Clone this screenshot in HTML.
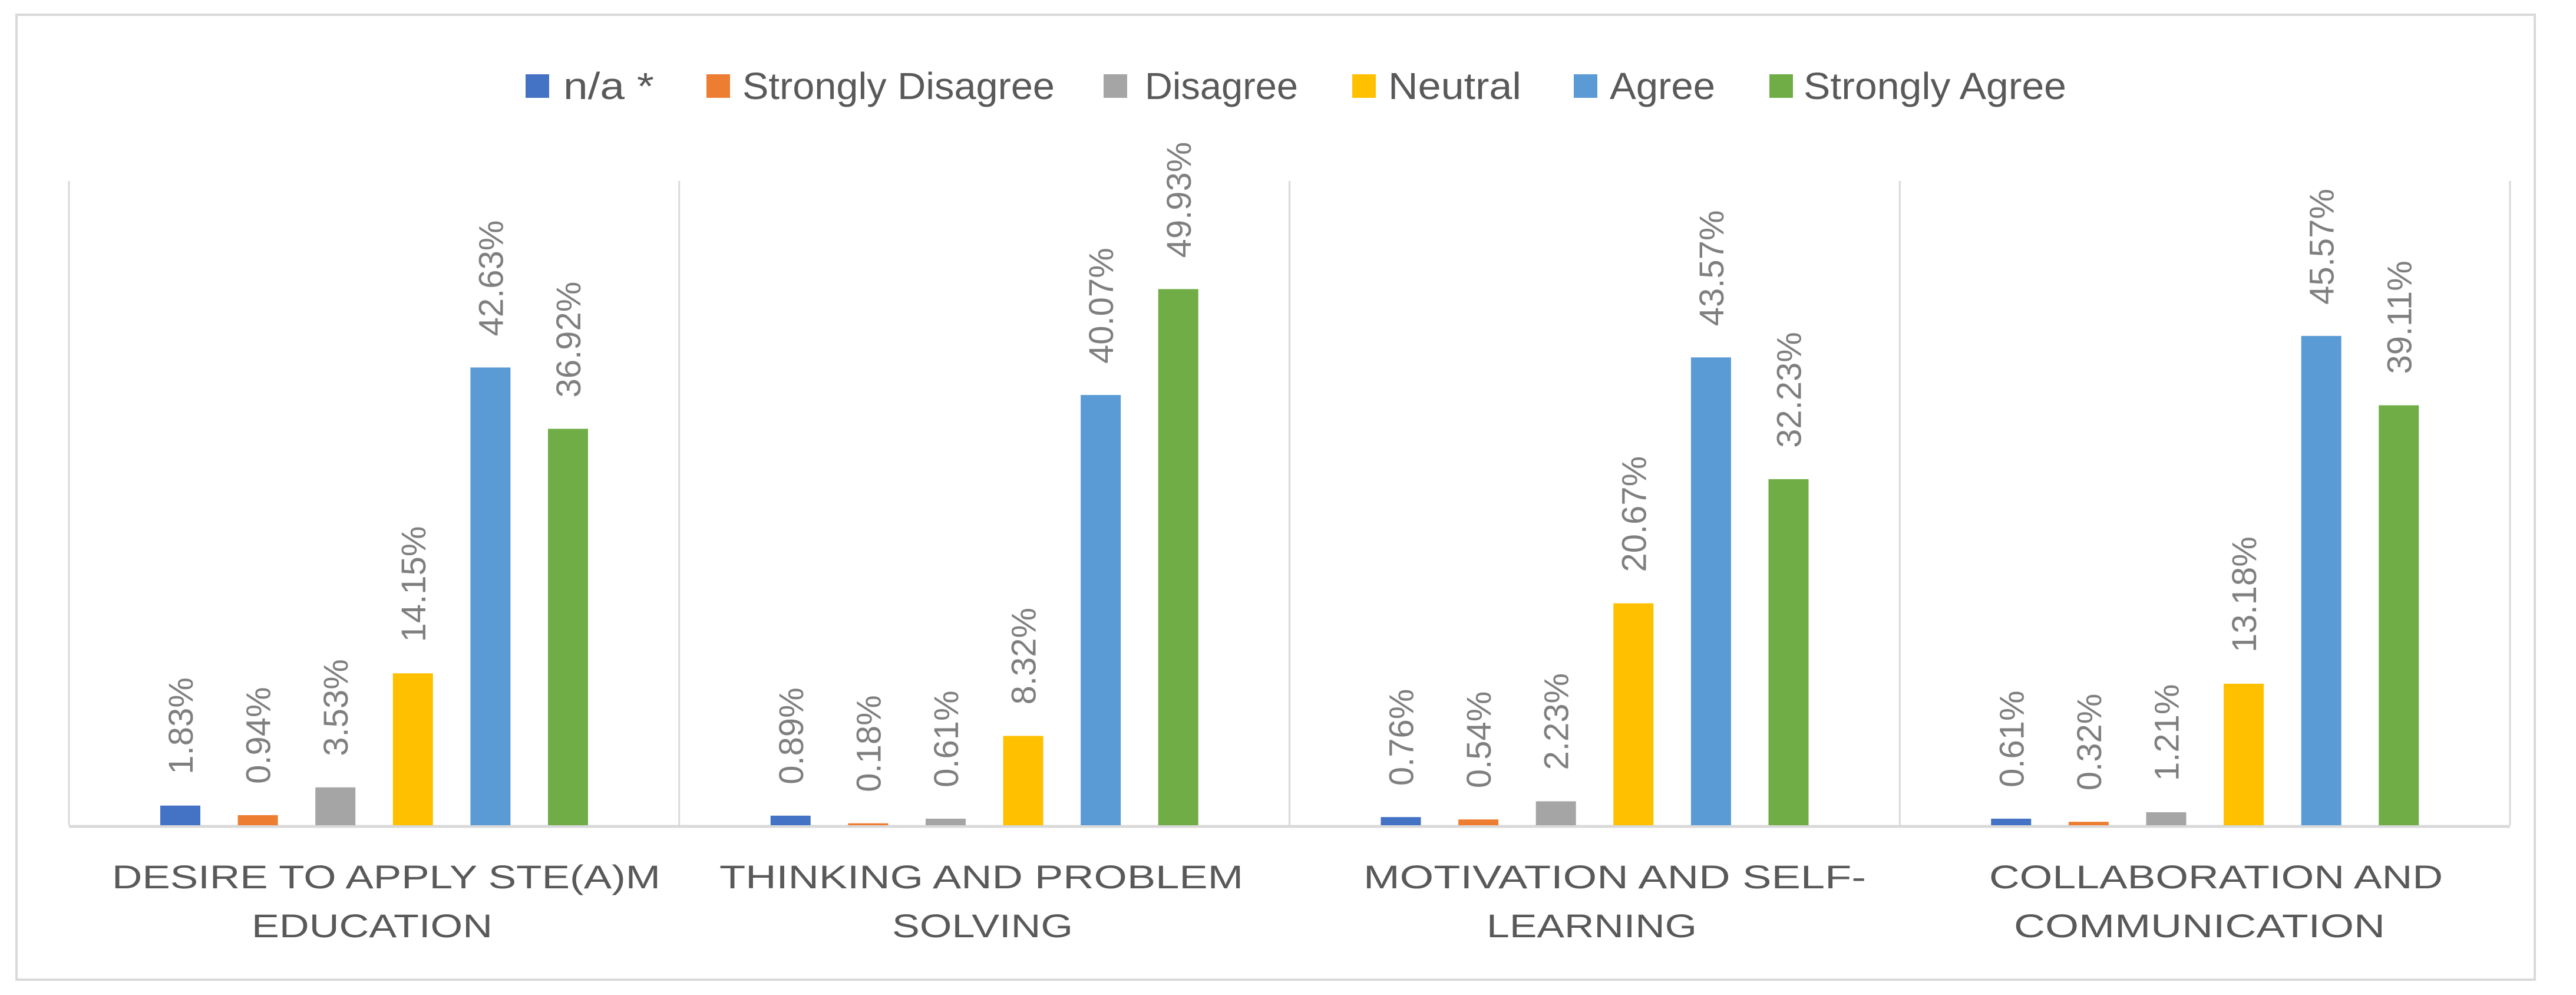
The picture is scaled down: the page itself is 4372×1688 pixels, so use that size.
<!DOCTYPE html>
<html><head><meta charset="utf-8"><style>html,body{margin:0;padding:0;background:#fff}svg{display:block}</style></head>
<body>
<svg id="chart" width="4372" height="1688" xmlns="http://www.w3.org/2000/svg" font-family="Liberation Sans, sans-serif">
<rect x="28" y="25" width="4274" height="1637" fill="#fff" stroke="#d9d9d9" stroke-width="4"/>
<g id="legend"></g>
<g id="grid"></g>
<g id="bars"></g>
<g id="labels"></g>
<g id="cats"></g>
</svg>
<script>
const categories1 = ["DESIRE TO APPLY STE(A)M","THINKING AND PROBLEM","MOTIVATION AND SELF-","COLLABORATION AND"];
const categories2 = ["EDUCATION","SOLVING","LEARNING","COMMUNICATION"];
const seriesNames = ["n/a *","Strongly Disagree","Disagree","Neutral","Agree","Strongly Agree"];
const naVals = [1.83,0.89,0.76,0.61];
const sdVals = [0.94,0.18,0.54,0.32];
const dVals = [3.53,0.61,2.23,1.21];
const neuVals = [14.15,8.32,20.67,13.18];
const agVals = [42.63,40.07,43.57,45.57];
const saVals = [36.92,49.93,32.23,39.11];
const yMax = 60;

const series = [naVals,sdVals,dVals,neuVals,agVals,saVals];
const colors = ["#4472C4","#ED7D31","#A5A5A5","#FFC000","#5B9BD5","#70AD47"];
const NS="http://www.w3.org/2000/svg";
const plotL=117, plotR=4260, plotT=307, baseY=1400;
const groupW=(plotR-plotL)/categories1.length;
const yScale=v=>baseY-(v/yMax)*(baseY-plotT);
const barW=68, barOff=155, barStep=131.6;
function el(tag,attrs,parent){const e=document.createElementNS(NS,tag);for(const k in attrs)e.setAttribute(k,attrs[k]);parent.appendChild(e);return e;}
const grid=document.getElementById('grid'),bars=document.getElementById('bars'),labels=document.getElementById('labels'),cats=document.getElementById('cats'),legend=document.getElementById('legend');
for(let i=0;i<=categories1.length;i++){
  const x=plotL+i*groupW;
  const l=el('line',{x1:x,x2:x,y1:plotT,y2:baseY,stroke:'#d9d9d9','stroke-width':3},grid);
  
  
}
const ax=el('line',{x1:plotL,x2:plotR,y1:baseY+2,y2:baseY+2,stroke:'#d9d9d9','stroke-width':5},grid);


const line1Spans=[[190,1121],[1221,2110],[2314,3167],[3376,4146]];
const line2Spans=[[427,836],[1514,1821],[2523,2880],[3418,4048]];
categories1.forEach((c,ci)=>{
  const g0=plotL+ci*groupW;
  series.forEach((vals,si)=>{
    const v=vals[ci];
    const x=g0+barOff+si*barStep;
    const y=yScale(v);
    const r=el('rect',{x:x,y:y,width:barW,height:baseY-y,fill:colors[si]},bars);
    
    
    const cx=x+barW/2, ly=y-53;
    const t=el('text',{x:0,y:0,transform:`translate(${cx+21},${ly}) rotate(-90)`,'font-size':58,fill:'#7f7f7f'},labels);
    t.textContent=v.toFixed(2)+'%';
    
    
  });
  const s1=line1Spans[ci], s2=line2Spans[ci];
  const t1=el('text',{x:s1[0],y:1507,'font-size':56,fill:'#595959',textLength:s1[1]-s1[0],lengthAdjust:'spacingAndGlyphs'},cats);
  t1.textContent=c;
  
  
  const t2=el('text',{x:s2[0],y:1590,'font-size':56,fill:'#595959',textLength:s2[1]-s2[0],lengthAdjust:'spacingAndGlyphs'},cats);
  t2.textContent=categories2[ci];
  
  
});
const legSq=[892,1199,1873,2295,2671,3003];
const legTx=[[956,1110],[1260,1790],[1943,2203],[2356,2582],[2732,2911],[3061,3507]];
seriesNames.forEach((n,i)=>{
  const g=el('g',{},legend);
  
  
  el('rect',{x:legSq[i],y:126,width:40,height:40,fill:colors[i]},g);
  const t=el('text',{x:legTx[i][0],y:168,'font-size':64,fill:'#595959',textLength:legTx[i][1]-legTx[i][0],lengthAdjust:'spacingAndGlyphs'},g);
  t.textContent=n;
  
  
});
</script>
</body></html>
